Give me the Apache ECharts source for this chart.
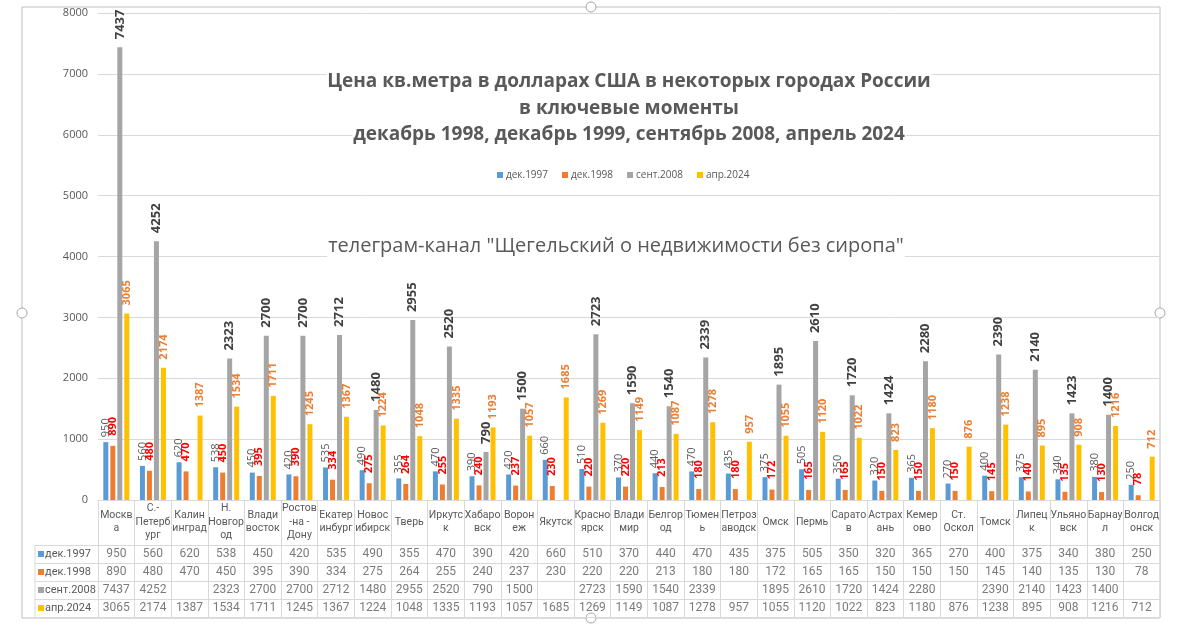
<!DOCTYPE html>
<html><head><meta charset="utf-8">
<script src="https://cdn.jsdelivr.net/npm/echarts@6/dist/echarts.min.js"></script>
<style>html,body{margin:0;padding:0;background:#fff}#c{width:1200px;height:627px}</style>
</head><body><div id="c"></div>
<script>
const cities = ['Москв\nа','С.-\nПетерб\nург','Калин\nинград','Н.\nНовгор\nод','Влади\nвосток','Ростов\n-на -\nДону','Екатер\nинбург','Новос\nибирск','Тверь','Иркутс\nк','Хабаро\nвск','Ворон\nеж','Якутск','Красно\nярск','Влади\nмир','Белгор\nод','Тюмен\nь','Петроз\nаводск','Омск','Пермь','Сарато\nв','Астрах\nань','Кемер\nово','Ст.\nОскол','Томск','Липец\nк','Ульяно\nвск','Барнау\nл','Волгод\nонск'];
const seriesNames = ['дек.1997','дек.1998','сент.2008','апр.2024'];
const dec1997 = [950,560,620,538,450,420,535,490,355,470,390,420,660,510,370,440,470,435,375,505,350,320,365,270,400,375,340,380,250];
const dec1998 = [890,480,470,450,395,390,334,275,264,255,240,237,230,220,220,213,180,180,172,165,165,150,150,150,145,140,135,130,78];
const sep2008 = [7437,4252,null,2323,2700,2700,2712,1480,2955,2520,790,1500,null,2723,1590,1540,2339,null,1895,2610,1720,1424,2280,null,2390,2140,1423,1400,null];
const apr2024 = [3065,2174,1387,1534,1711,1245,1367,1224,1048,1335,1193,1057,1685,1269,1149,1087,1278,957,1055,1120,1022,823,1180,876,1238,895,908,1216,712];
const yMin = 0, yMax = 8000, yStep = 1000;
const titleLines = ['Цена кв.метра в долларах США в некоторых городах России','в ключевые моменты','декабрь 1998, декабрь 1999, сентябрь 2008, апрель 2024'];
const watermark = 'телеграм-канал "Щегельский о недвижимости без сиропа"';

const colors = ['#5B9BD5','#ED7D31','#A5A5A5','#FFC000'];
const allSeries = [dec1997, dec1998, sep2008, apr2024];
const FONT = 'Open Sans';
const SMALL = 'Roboto';
const GRID = '#D9D9D9';

const labelStyles = [
  {color:'#595959', fontSize:11, fontWeight:'normal', distance:5},
  {color:'#FF0000', fontSize:11, fontWeight:'bold', distance:10},
  {color:'#404040', fontSize:13, fontWeight:'bold', distance:8},
  {color:'#ED7D31', fontSize:11, fontWeight:'bold', distance:8}
];

const barSeries = allSeries.map((arr, i) => ({
  name: seriesNames[i], type: 'bar', xAxisIndex: 0, yAxisIndex: 0,
  data: arr, barWidth: 5, barGap: '40%',
  itemStyle: {color: colors[i]},
  label: {
    show: true, position: 'top', rotate: 90, align: 'left', verticalAlign: 'middle',
    distance: labelStyles[i].distance, color: labelStyles[i].color,
    fontSize: labelStyles[i].fontSize, fontWeight: labelStyles[i].fontWeight, fontFamily: FONT
  }
}));

const tableData = [];
allSeries.forEach((arr, r) => arr.forEach((v, c) => { if (v !== null) tableData.push([c, r, v]); }));

const rich = {t:{fontSize:11, color:'#595959', fontFamily:SMALL, padding:[0,0,0,1]}};
colors.forEach((c,i)=>{ rich['s'+i] = {width:6, height:6, backgroundColor:c}; });

const titleY = [82, 108.5, 135];
const option = {
  animation: false,
  textStyle: {fontFamily: FONT},
  graphic: [
    {type:'rect', shape:{x:22, y:7, width:1138, height:611}, style:{fill:'none', stroke:'#BFBFBF', lineWidth:1}, silent:true, z:-1},
    {type:'line', shape:{x1:35, y1:545, x2:35, y2:617}, style:{stroke:GRID, lineWidth:1}},
    ...titleLines.map((t,i)=>({type:'text', x:629, y:titleY[i], z:10, style:{text:t, align:'center', verticalAlign:'middle', fontSize:19, fontWeight:'bold', fill:'#595959', fontFamily:FONT, backgroundColor:'#fff', padding:[0,1]}})),
    {type:'text', x:616, y:246, z:10, style:{text:watermark, align:'center', verticalAlign:'middle', fontSize:20, fill:'#595959', fontFamily:FONT, backgroundColor:'#fff', padding:[2,1]}},
    ...[[22,313],[1160,313],[591,7],[591,618]].map(p=>({type:'circle', shape:{cx:p[0], cy:p[1], r:5}, style:{fill:'#fff', stroke:'#A6A6A6', lineWidth:1}}))
  ],
  legend: {
    data: seriesNames, top: 170, left: 497, icon: 'rect', itemWidth: 6, itemHeight: 6, itemGap: 14, padding: 0,
    textStyle: {fontSize: 10, color: '#595959', fontFamily: FONT, padding:[0,0,0,-2]}
  },
  grid: [
    {left: 98, right: 40, top: 13, height: 487},
    {left: 98, right: 40, top: 500, height: 45},
    {left: 98, right: 40, top: 545, height: 72}
  ],
  xAxis: [
    {type:'category', gridIndex:0, data: cities,
      axisLine:{lineStyle:{color:GRID}}, axisTick:{show:false},
      axisLabel:{interval:0, margin:22, verticalAlign:'middle', fontSize:10.5, lineHeight:13.5, color:'#595959', fontFamily:SMALL}},
    {type:'category', gridIndex:1, data: cities,
      axisLine:{show:false}, axisTick:{show:false}, axisLabel:{show:false},
      splitLine:{show:true, interval:0, lineStyle:{color:GRID}}},
    {type:'category', gridIndex:2, data: cities,
      axisLine:{show:true, lineStyle:{color:GRID}}, axisTick:{show:false}, axisLabel:{show:false},
      splitLine:{show:true, interval:0, lineStyle:{color:GRID}}}
  ],
  yAxis: [
    {type:'value', gridIndex:0, min:yMin, max:yMax, interval:yStep,
      axisLine:{show:false}, axisTick:{show:false},
      axisLabel:{fontSize:11, color:'#595959', margin:10, fontFamily:FONT, formatter: v => String(v)},
      splitLine:{lineStyle:{color:GRID}}},
    {type:'value', gridIndex:1, show:false},
    {type:'category', gridIndex:2, data: seriesNames, inverse:true,
      axisLine:{show:true, lineStyle:{color:GRID}},
      axisTick:{show:true, length:63, lineStyle:{color:GRID}},
      axisLabel:{align:'left', margin:60, formatter:(v, idx)=>'{s'+idx+'|}{t|'+v+'}', rich: rich},
      splitLine:{show:true, interval:0, lineStyle:{color:GRID}}}
  ],
  series: [
    ...barSeries,
    {type:'scatter', xAxisIndex:2, yAxisIndex:2, data: tableData, symbolSize:1,
      itemStyle:{color:'transparent'}, silent:true,
      label:{show:true, position:'inside', formatter:p=>String(p.value[2]), fontSize:12, color:'#595959', fontFamily:SMALL}}
  ]
};
const chart = echarts.init(document.getElementById('c'));
chart.setOption(option);
</script></body></html>
